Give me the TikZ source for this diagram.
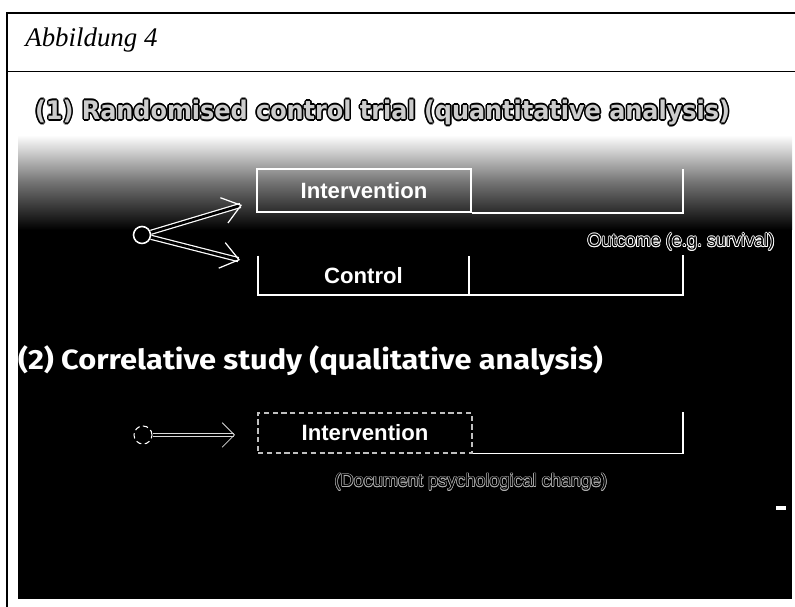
\documentclass[tikz,border=0pt]{standalone}
\usepackage{fontspec}
\setmainfont{Liberation Serif}
\newfontfamily\boxfont{Liberation Sans}
\newfontfamily\headonefont{DejaVu Sans}
\newfontfamily\headtwofont{Fira Sans}
\usepackage{graphicx}
\usetikzlibrary{arrows.meta}

% text with a thin rim: rim copies first, face on top
\newcommand{\ringlabel}[6][0.5pt]{%
  \foreach \ox/\oy in {-1/0,1/0,0/-1,0/1,-0.7/-0.7,0.7/0.7,-0.7/0.7,0.7/-0.7}
    \node[#5, text=#4, xshift=\ox*#1, yshift=\oy*#1] at (#3) {#6};
  \node[#5] (#2) at (#3) {#6};
}

\begin{document}
\begin{tikzpicture}[x=0.02cm, y=-0.02cm,
  boxlabel/.style={font=\boxfont\bfseries\fontsize{12.6}{15}\selectfont, text=white, inner sep=0pt},
  solidbox/.style={boxlabel, draw=white, line width=1pt, minimum width=4.28cm, minimum height=0.86cm},
  openbox/.style={boxlabel, minimum width=4.22cm, minimum height=0.78cm},
  dashbox/.style={boxlabel, draw=white!75!black, densely dashed, line width=0.6pt, minimum width=4.28cm, minimum height=0.8cm},
  bracket/.style={draw=white, line width=1pt},
  source/.style={circle, draw=white, line width=0.9pt, fill=black, minimum size=0.34cm, inner sep=0pt},
  hollowarrow/.style={draw=white, line width=0.7pt, double=black, double distance=1.6pt, -{Straight Barb[length=10pt, width=15pt]}},
  thinarrow/.style={draw=white!85!black, line width=0.45pt, double=black, double distance=1.2pt, -{Straight Barb[length=7pt, width=14pt]}},
  headone/.style={text=white!80!black, inner sep=0pt},
  note/.style={font=\boxfont\fontsize{10.3}{12}\selectfont, text=black, inner sep=0pt}]
  \useasboundingbox (0,0) rectangle (795,607);
  % panel
  \fill[black] (18,72) rectangle (792,599);
  \fill[white] (18,72) rectangle (792,135);
  \shade[top color=white, bottom color=black, middle color=black!55] (18,135) rectangle (792,230);
  % frame
  \draw[line width=1.1pt] (7,607) -- (7,13) -- (795,13);
  \draw[line width=1.1pt] (7,71.5) -- (795,71.5);
  \node[anchor=base west, inner sep=0pt, font=\itshape\fontsize{15.3}{18}\selectfont] (fig) at (25,47) {Abbildung 4};

  % (1)
  \ringlabel[0.9pt]{title1}{382.5,112.5}{black}{headone}{\resizebox*{13.9cm}{0.5cm}{\headonefont\bfseries (1) Randomised control trial (quantitative analysis)}}
  \node[source] (src1) at (142,235) {};
  \coordinate (tipA) at (242,205);
  \coordinate (tipB) at (240,260);
  \draw[hollowarrow] (src1) -- (tipA);
  \draw[hollowarrow] (src1) -- (tipB);
  \node[solidbox] (int1) at (364,190.5) {Intervention};
  \coordinate (end1) at (683,169);
  \draw[bracket] (int1.south east) -| (end1);
  \node[openbox] (ctrl) at (363.5,275.5) {Control};
  \coordinate (end2) at (683,255);
  \draw[bracket] (ctrl.north west) -- (ctrl.south west) -| (end2);
  \draw[bracket] (ctrl.south east) -- (ctrl.north east);
  \ringlabel[0.45pt]{outcome}{681,242}{white}{note}{Outcome (e.g.\ survival)}

  % (2)
  \node[text=white, inner sep=0pt] (title2) at (310.5,361) {\resizebox*{11.7cm}{0.6cm}{\headtwofont\bfseries (2) Correlative study (qualitative analysis)}};
  \node[source, densely dashed, line width=0.6pt, minimum size=0.36cm] (src2) at (143,435) {};
  \coordinate (tipC) at (235,435);
  \draw[thinarrow] (src2) -- (tipC);
  \node[dashbox] (int2) at (365,433) {Intervention};
  \coordinate (end3) at (683,412);
  \draw[bracket] (int2.south east) -| (end3);
  \ringlabel[0.35pt]{change}{471,482}{white!70!black}{note}{(Document psychological change)}
  \fill[white] (776,506) rectangle (786,510);
\end{tikzpicture}
\end{document}
